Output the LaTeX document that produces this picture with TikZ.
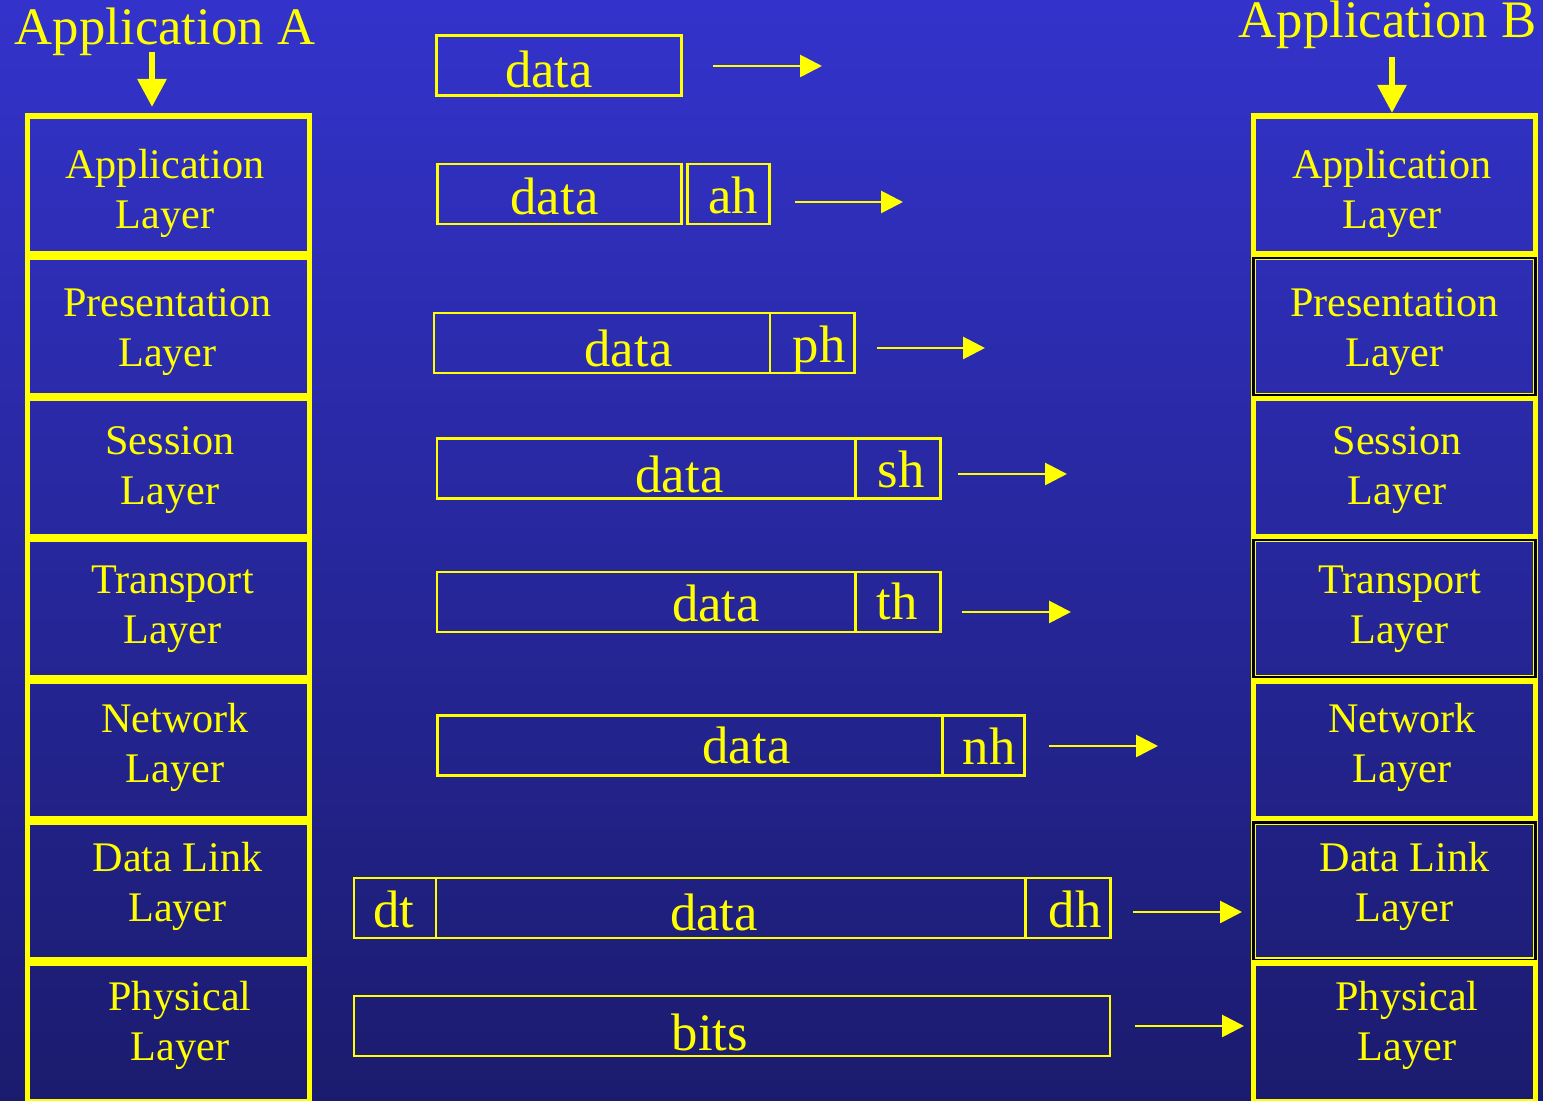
\documentclass[tikz,border=0pt]{standalone}
\usepackage{fontspec}
\setmainfont{Liberation Serif}
\usetikzlibrary{arrows.meta}

\definecolor{slideyellow}{RGB}{255,255,0}
\definecolor{slidetop}{RGB}{51,51,204}
\definecolor{slidebottom}{RGB}{27,27,110}

\begin{document}
\begin{tikzpicture}[
  layer/.style={shape=rectangle,draw=slideyellow,line width=1.6pt,minimum width=2.82cm,minimum height=1.382cm,inner sep=0pt},
  dlayer/.style={shape=rectangle,draw=slideyellow,line width=0.35pt,double=black,double distance=0.6pt,minimum width=2.82cm,minimum height=1.372cm,inner sep=0pt},
  layertext/.style={text=slideyellow,font=\fontsize{12}{14.2}\selectfont,align=center},
  apptext/.style={text=slideyellow,font=\fontsize{15}{18}\selectfont,anchor=base,inner sep=0pt},
  pkt/.style={shape=rectangle,draw=slideyellow,line width=0.8pt,minimum height=0.6cm,inner sep=0pt},
  pkttext/.style={text=slideyellow,font=\fontsize{15}{18}\selectfont,anchor=base,inner sep=0pt},
  pktarrow/.style={draw=slideyellow,line width=0.8pt,-{Triangle[length=6.2pt,width=6.2pt]}},
  bigarrow/.style={draw=slideyellow,line width=1.7pt,-{Triangle[length=8pt,width=8pt]}}
]

%background of the slide
\useasboundingbox (0,0) rectangle (15.43,-11.01);
\shade[top color=slidetop,bottom color=slidebottom] (0,0) rectangle (15.43,-11.01);

%draw both layer stacks
\foreach \lname/\ltext/\rstyle [count=\i from 0] in {app/Application/layer, pres/Presentation/dlayer, sess/Session/layer, trans/Transport/dlayer, net/Network/layer, link/Data Link/dlayer, phys/Physical/layer}
{
  \node[layer] (A\lname) at (1.685,{-1.851-1.412*\i}) {};
  \node[\rstyle] (B\lname) at (13.945,{-1.851-1.412*\i}) {};
  \node[layertext] (tA\lname) at ({1.65+0.025*\i},{-1.93-1.387*\i}) {\ltext\\Layer};
  \node[layertext] (tB\lname) at ({13.92+0.025*\i},{-1.93-1.387*\i}) {\ltext\\Layer};
}

%application names with arrows into the stacks
\node[apptext] at (1.65,-0.45) (appA) {Application A};
\node[apptext] at (13.875,-0.38) (appB) {Application B};
\coordinate (appAtop) at (1.52,-0.52);
\coordinate (appAtip) at (1.52,-1.07);
\coordinate (appBtop) at (13.92,-0.57);
\coordinate (appBtip) at (13.92,-1.13);
\draw[bigarrow] (appAtop) -- (appAtip);
\draw[bigarrow] (appBtop) -- (appBtip);

%draw packets, one row per layer
\node[pkt,minimum width=2.455cm] at (5.59,-0.655) (d1) {};
\node[pkttext] at (5.49,-0.88) (td1) {data};

\node[pkt,minimum width=2.44cm] at (5.595,-1.94) (d2) {};
\node[pkt,minimum width=0.82cm] at (7.285,-1.94) (ah) {};
\node[pkttext] at (5.545,-2.15) (td2) {data};
\node[pkttext] at (7.33,-2.14) (tah) {ah};

\node[pkt,minimum width=3.36cm] at (6.02,-3.43) (d3) {};
\node[pkt,minimum width=0.847cm] at (8.123,-3.43) (ph) {};
\node[pkttext] at (6.285,-3.67) (td3) {data};
\node[pkttext] at (8.19,-3.63) (tph) {ph};

\node[pkt,minimum width=4.18cm] at (6.46,-4.685) (d4) {};
\node[pkt,minimum width=0.85cm] at (8.977,-4.685) (sh) {};
\node[pkttext] at (6.795,-4.93) (td4) {data};
\node[pkttext] at (9.01,-4.88) (tsh) {sh};

\node[pkt,minimum width=4.18cm] at (6.46,-6.02) (d5) {};
\node[pkt,minimum width=0.85cm] at (8.977,-6.02) (th) {};
\node[pkttext] at (7.16,-6.22) (td5) {data};
\node[pkttext] at (8.97,-6.20) (tth) {th};

\node[pkt,minimum width=5.05cm] at (6.897,-7.455) (d6) {};
\node[pkt,minimum width=0.827cm] at (9.833,-7.455) (nh) {};
\node[pkttext] at (7.465,-7.64) (td6) {data};
\node[pkttext] at (9.89,-7.645) (tnh) {nh};

\node[pkt,minimum width=0.82cm] at (3.95,-9.08) (dt) {};
\node[pkt,minimum width=5.9cm] at (7.31,-9.08) (d7) {};
\node[pkt,minimum width=0.842cm] at (10.68,-9.08) (dh) {};
\node[pkttext] at (3.94,-9.28) (tdt) {dt};
\node[pkttext] at (7.14,-9.31) (td7) {data};
\node[pkttext] at (10.75,-9.28) (tdh) {dh};

\node[pkt,minimum width=7.56cm] at (7.32,-10.26) (bits) {};
\node[pkttext] at (7.10,-10.51) (tbits) {bits};

%arrows to the right of each packet
\foreach \n/\xa/\xb/\y in {1/7.13/8.22/0.66, 2/7.95/9.03/2.02, 3/8.77/9.85/3.48, 4/9.58/10.67/4.74, 5/9.62/10.71/6.12, 6/10.49/11.58/7.46, 7/11.33/12.42/9.12, 8/11.35/12.44/10.26}
{
  \coordinate (arrS\n) at (\xa,-\y);
  \coordinate (arrE\n) at (\xb,-\y);
  \draw[pktarrow] (arrS\n) -- (arrE\n);
}
\end{tikzpicture}
\end{document}
